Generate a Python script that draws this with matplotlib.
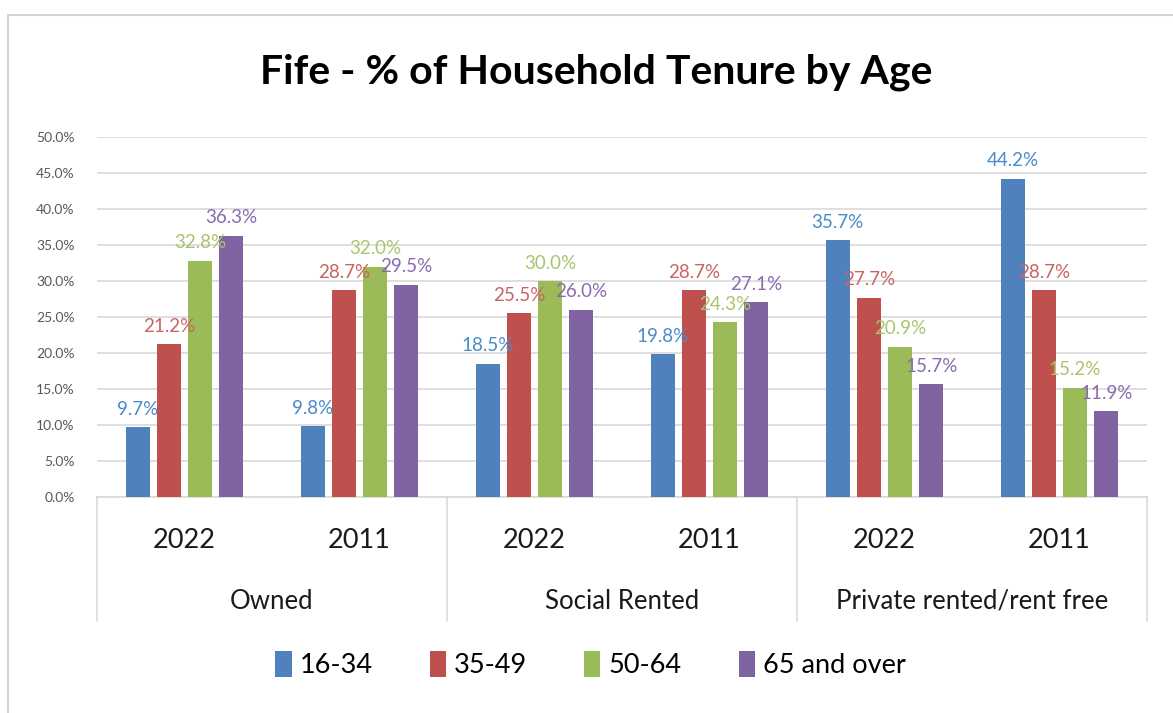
import matplotlib.pyplot as plt
import numpy as np
from matplotlib.patches import Rectangle

plt.rcParams['font.family'] = ['Lato', 'DejaVu Sans']

# Household tenure by age group, Fife
tenures = ['Owned', 'Social Rented', 'Private rented/rent free']
years = ['2022', '2011']
ages = ['16-34', '35-49', '50-64', '65 and over']

# one value per tenure/year slot, in order: Owned 2022, Owned 2011, Social 2022, ...
age_16_34 = [9.7, 9.8, 18.5, 19.8, 35.7, 44.2]
age_35_49 = [21.2, 28.7, 25.5, 28.7, 27.7, 28.7]
age_50_64 = [32.8, 32.0, 30.0, 24.3, 20.9, 15.2]
age_65_over = [36.3, 29.5, 26.0, 27.1, 15.7, 11.9]

series = [age_16_34, age_35_49, age_50_64, age_65_over]
bar_colors = ['#4F81BD', '#C0504D', '#9BBB59', '#8064A2']
label_colors = ['#4A8BC8', '#C86461', '#A9C46E', '#8A6BB0']

fig = plt.figure(figsize=(11.73, 7.13), dpi=100)

# light chart-area frame
fig.patches.append(Rectangle((8 / 1173, -0.01), 1.02, 1 - 15 / 713 + 0.01,
                             transform=fig.transFigure, fill=False,
                             edgecolor='#D4D4D4', linewidth=1.5))

ax = fig.add_axes([97 / 1173, 1 - 497 / 713, 1050 / 1173, 360 / 713])

x = np.arange(len(age_16_34))
pitch = 0.178
width = 0.14
for i, (vals, col, lcol) in enumerate(zip(series, bar_colors, label_colors)):
    xs = x + (i - 1.5) * pitch
    ax.bar(xs, vals, width=width, color=col, label=ages[i], zorder=3)
    for xv, v in zip(xs, vals):
        ax.text(xv, v + 1.3, f'{v:.1f}%', ha='center', va='bottom',
                fontsize=13.5, color=lcol, zorder=4)

ax.set_xlim(-0.5, 5.5)
ax.set_ylim(0, 50)
ax.set_yticks(np.arange(0, 51, 5))
ax.set_yticklabels([f'{t:.1f}%' for t in np.arange(0, 51, 5)],
                   fontsize=10, color='#595959')
ax.tick_params(axis='y', length=0, pad=16)
ax.grid(axis='y', color='#D9D9D9', linewidth=1.2, zorder=0)
for s in ['top', 'right', 'left']:
    ax.spines[s].set_visible(False)
ax.spines['bottom'].set_color('#D9D9D9')
ax.spines['bottom'].set_linewidth(1.2)

# two-level category axis
ax.set_xticks(x)
ax.set_xticklabels(years * len(tenures), fontsize=19.5, color='#1A1A1A')
ax.tick_params(axis='x', length=0, pad=22)
trans = ax.get_xaxis_transform()
for xb in [-0.5, 1.5, 3.5, 5.5]:
    ax.plot([xb, xb], [0, -0.345], color='#D9D9D9', linewidth=1.2,
            transform=trans, clip_on=False)
for k, name in enumerate(tenures):
    ax.text(2 * k + 0.5, -0.29, name, transform=trans, ha='center',
            va='center', fontsize=18.5, color='#1A1A1A')

fig.text(0.508, 1 - 72 / 713, 'Fife - % of Household Tenure by Age',
         ha='center', va='center', fontsize=29.5, fontweight='bold')

ax.legend(loc='center', bbox_to_anchor=(0.47, -0.465), ncol=4, frameon=False,
          fontsize=19.5, handlelength=0.6, handleheight=1.1, handletextpad=0.3,
          columnspacing=2.1)

fig.savefig('out.png', dpi=100, facecolor='white')
